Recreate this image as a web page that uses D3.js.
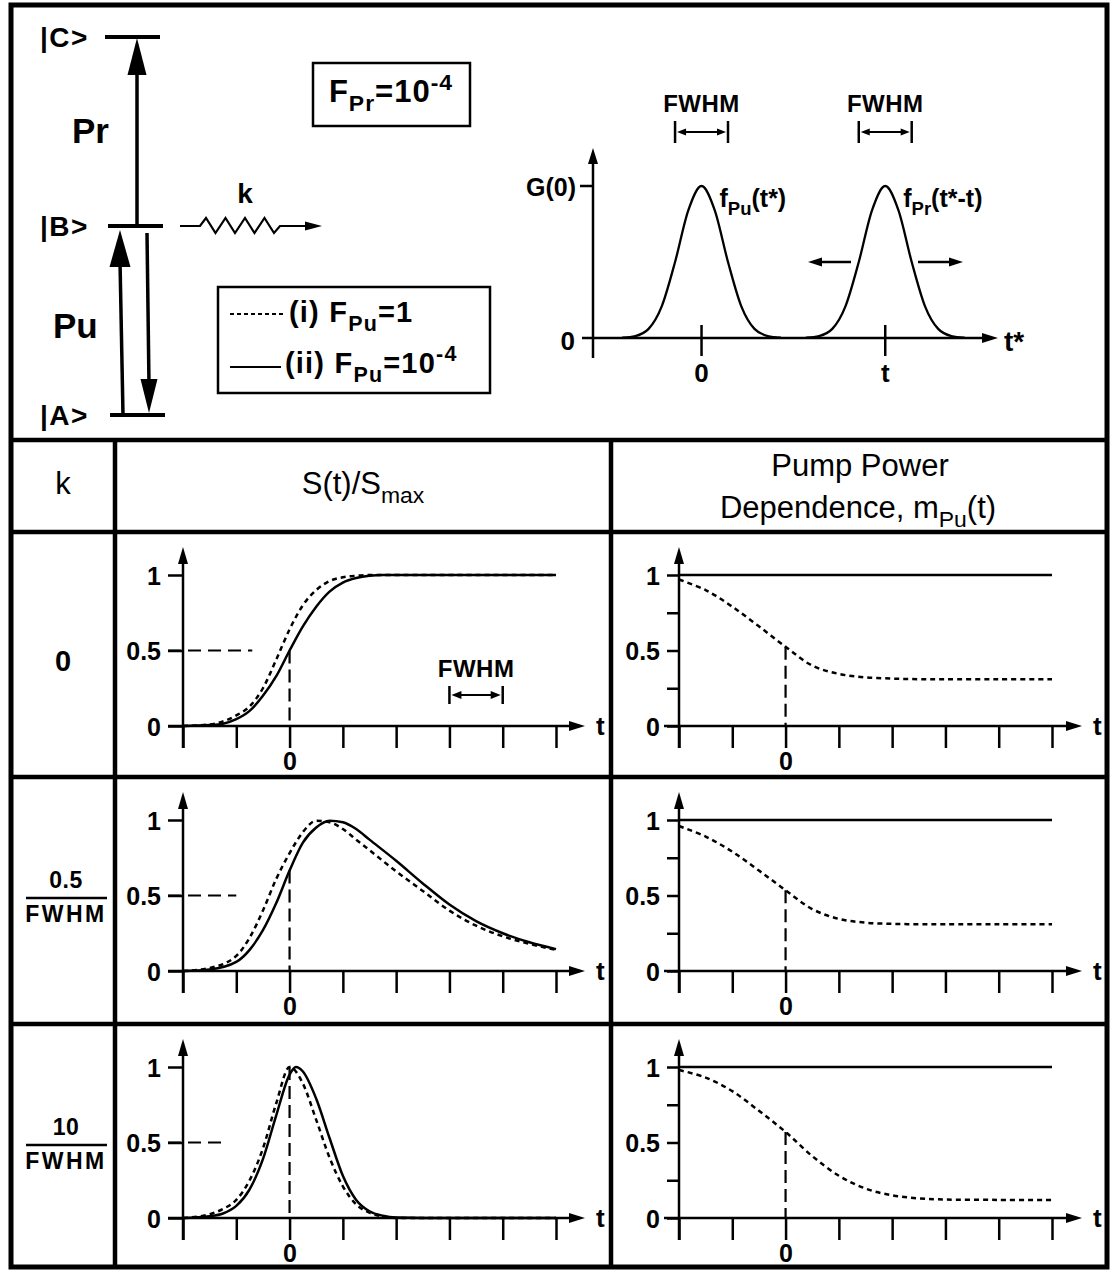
<!DOCTYPE html>
<html><head><meta charset="utf-8">
<script src="https://cdn.jsdelivr.net/npm/d3@7"></script>
<style>body{margin:0;background:#fff}svg{display:block}</style>
</head><body>
<svg id="c" width="1110" height="1270"></svg>
<script>
// ---------------- DATA ----------------
const stateNames = ["|A>", "|B>", "|C>"];
const stateEnergy = [0, 1, 2];
const pulseOffsets = [-1.5,-1.25,-1,-0.75,-0.5,-0.25,0,0.25,0.5,0.75,1,1.25,1.5];
const pulseValues  = [0.002,0.013,0.06,0.21,0.5,0.84,1,0.84,0.5,0.21,0.06,0.013,0.002];
const pulseCenters = [0, 3.47];
const pulseLabels = [["f","Pu","(t*)"], ["f","Pr","(t*-t)"]];
const tTicks = [-2,-1,0,1,2,3,4,5];
const leftYTicks = [0, 0.5, 1];
const rightYTicks = [0, 0.25, 0.5, 0.75, 1];
const kNumerators = ["0", "0.5", "10"];
const kDenominators = [null, "FWHM", "FWHM"];

// S(t)/Smax, row k=0
const sT1 = [-2,-1.5,-1.25,-1,-0.75,-0.5,-0.25,0,0.25,0.5,0.75,1,1.25,1.5,1.75,5];
const sSolid1 = [0,0.006,0.015,0.045,0.1,0.2,0.33,0.5,0.66,0.79,0.89,0.95,0.98,0.995,1,1];
const sDash1  = [0,0.01,0.03,0.07,0.13,0.25,0.44,0.64,0.8,0.9,0.96,0.985,0.995,1,1,1];
// row k=0.5/FWHM
const sT2 = [-2,-1.5,-1,-0.75,-0.5,-0.25,0,0.25,0.5,0.75,1,1.25,1.5,2,2.5,3,3.5,4,4.5,5];
const sSolid2 = [0,0.01,0.06,0.14,0.27,0.45,0.665,0.85,0.95,0.995,0.985,0.94,0.87,0.73,0.58,0.44,0.33,0.25,0.19,0.145];
const sDash2  = [0,0.02,0.1,0.22,0.4,0.61,0.78,0.92,0.995,0.985,0.94,0.87,0.8,0.66,0.53,0.4,0.3,0.23,0.18,0.14];
// row k=10/FWHM
const sT3s = [-2,-1.5,-1.25,-1,-0.75,-0.5,-0.25,0,0.12,0.25,0.5,0.75,1,1.25,1.5,1.75,2,2.5,5];
const sSolid3 = [0,0.012,0.03,0.08,0.19,0.39,0.68,0.95,1,0.97,0.79,0.53,0.28,0.12,0.045,0.015,0.003,0,0];
const sT3d = [-2,-1.5,-1.25,-1,-0.75,-0.5,-0.25,0,0.25,0.5,0.75,1,1.25,1.5,1.75,2,5];
const sDash3  = [0,0.025,0.06,0.12,0.25,0.46,0.76,1,0.89,0.65,0.4,0.21,0.09,0.035,0.01,0,0];

// pump power dependence m_Pu(t)
const mT = [-2,-1.5,-1,-0.5,0,0.5,1,1.5,2,2.5,3,4,5];
const mDash1 = [0.97,0.90,0.79,0.66,0.525,0.40,0.345,0.322,0.314,0.31,0.31,0.31,0.31];
const mDash2 = [0.96,0.89,0.79,0.665,0.535,0.41,0.345,0.32,0.312,0.31,0.31,0.31,0.31];
const mDash3 = [0.98,0.93,0.84,0.71,0.57,0.41,0.28,0.195,0.15,0.13,0.122,0.12,0.12];
const mSolidT = [-2, 5];
const mSolid = [1, 1];

const leftGuideTop = [0.5, 0.665, 1];
const leftGuideEnd = [-0.7, -1.0, -1.2];

// ---------------- DRAW ----------------
const svg = d3.select("#c");
const F = "'Liberation Sans', Arial, Helvetica, sans-serif";

function head(g, x, y, dir, len, w) {
  const d = {up:[0,-1],down:[0,1],left:[-1,0],right:[1,0]}[dir];
  const bx = x - d[0]*len, by = y - d[1]*len;
  const px = -d[1]*w/2, py = d[0]*w/2;
  g.append("path").attr("d", `M${x},${y}L${bx+px},${by+py}L${bx-px},${by-py}Z`).attr("fill","#000");
}
function line(g, x1, y1, x2, y2, w, dash) {
  const l = g.append("line").attr("x1",x1).attr("y1",y1).attr("x2",x2).attr("y2",y2)
    .attr("stroke","#000").attr("stroke-width",w||2.5);
  if (dash) l.attr("stroke-dasharray", dash);
  return l;
}
function rich(g, x, y, parts, size, anchor, weight, ls) {
  const t = g.append("text").attr("x",x).attr("y",y).attr("font-family",F)
    .attr("font-size",size).attr("font-weight",weight||"bold")
    .attr("text-anchor",anchor||"start").attr("letter-spacing",ls||0).attr("fill","#000");
  let cur = 0;
  parts.forEach(p => {
    const sz = (p.sub||p.sup) ? size*0.74 : size;
    const shift = p.sub ? size*0.3 : p.sup ? -size*0.4 : 0;
    t.append("tspan").attr("dy", shift - cur).attr("font-size", sz).text(p.t);
    cur = shift;
  });
  return t;
}
function label(g, x, y, txt, size, anchor, weight, ls) {
  return rich(g, x, y, [{t:txt}], size, anchor, weight, ls);
}

const g = svg.append("g");

// ---- Energy level diagram ----
const yE = d3.scaleLinear().domain([0, 2]).range([415, 37]);
const levelX = [[110,165],[108,163],[105,160]];
stateNames.forEach((n, i) => {
  const y = yE(stateEnergy[i]);
  line(g, levelX[i][0], y, levelX[i][1], y, 4);
  label(g, 40, y + 10, n, 28, "start", "bold", 1.5);
});
// Pr arrow (B -> C)
line(g, 137, yE(1), 137, yE(2) + 30, 3.5);
head(g, 137, yE(2) + 1, "up", 37, 19);
label(g, 72, 143, "Pr", 35);
// Pu up (A -> B)
line(g, 123, yE(0), 120, yE(1) + 35, 3.5);
head(g, 120, yE(1) + 4, "up", 37, 21);
// Pu down (B -> A)
line(g, 147, yE(1) + 7, 149, yE(0) - 30, 3.5);
head(g, 149, yE(0) - 2, "down", 34, 17);
label(g, 53, 338, "Pu", 35);
// k wavy arrow
{
  const y0 = yE(1);
  let pts = [[180,y0],[200,y0]];
  for (let i = 0; i < 4; i++) {
    const x = 200 + i*19.5;
    pts.push([x+6, y0-8]); pts.push([x+15.5, y0+7]);
  }
  pts.push([280, y0]); pts.push([308, y0]);
  g.append("path").attr("d", d3.line()(pts)).attr("fill","none").attr("stroke","#000").attr("stroke-width",2.2);
  head(g, 322, y0, "right", 17, 9);
  label(g, 245, 203, "k", 28, "middle");
}
// F_Pr box
g.append("rect").attr("x",313).attr("y",63).attr("width",157).attr("height",63)
  .attr("fill","none").attr("stroke","#000").attr("stroke-width",2.5);
rich(g, 391, 102, [{t:"F"},{t:"Pr",sub:true},{t:"=10"},{t:"-4",sup:true}], 31, "middle", "bold", 1);
// Legend box
g.append("rect").attr("x",218).attr("y",287).attr("width",272).attr("height",106)
  .attr("fill","none").attr("stroke","#000").attr("stroke-width",2.5);
line(g, 230, 314, 283, 314, 2, "4,3");
line(g, 230, 367, 281, 367, 2);
rich(g, 289, 322, [{t:"(i) F"},{t:"Pu",sub:true},{t:"=1"}], 29, "start", "bold", 1.2);
rich(g, 285, 373, [{t:"(ii) F"},{t:"Pu",sub:true},{t:"=10"},{t:"-4",sup:true}], 29, "start", "bold", 1.2);

// ---- Pulse diagram ----
{
  const x = d3.scaleLinear().domain([-2.05, 5.6]).range([593, 998]);
  const y = d3.scaleLinear().domain([0, 1]).range([338, 186]);
  line(g, 582, y(0), x(5.6) - 10, y(0), 2.5);
  head(g, x(5.6), y(0), "right", 16, 10);
  line(g, x(-2.05), 358, x(-2.05), 160, 2.5);
  head(g, x(-2.05), 148, "up", 16, 10);
  line(g, 580, y(1), x(-2.05), y(1), 2.5);
  rich(g, 1004, 351, [{t:"t*"}], 28, "start", "bold");
  label(g, 576, 196, "G(0)", 25, "end");
  label(g, 575, 350, "0", 26, "end");
  const pl = d3.line().x(d => x(d[0])).y(d => y(d[1])).curve(d3.curveMonotoneX);
  pulseCenters.forEach((c, i) => {
    const pts = pulseOffsets.map((o, j) => [c + o, pulseValues[j]]);
    g.append("path").attr("d", pl(pts)).attr("fill","none").attr("stroke","#000").attr("stroke-width",2.3);
    line(g, x(c), 325, x(c), 356, 2.5);
    label(g, x(c), 382, i === 0 ? "0" : "t", 26, "middle");
    label(g, x(c), 112, "FWHM", 24, "middle", "bold", 0.5);
    const xa = x(c - 0.5), xb = x(c + 0.5);
    line(g, xa, 121, xa, 143, 2.5); line(g, xb, 121, xb, 143, 2.5);
    line(g, xa + 6, 132, xb - 6, 132, 2);
    head(g, xa + 2, 132, "left", 9, 7); head(g, xb - 2, 132, "right", 9, 7);
    const lp = pulseLabels[i];
    rich(g, x(c) + 18, 207, [{t:lp[0]},{t:lp[1],sub:true},{t:lp[2]}], 25, "start", "bold");
  });
  line(g, 851, 262, 820, 262, 2.5); head(g, 808, 262, "left", 14, 9);
  line(g, 918, 262, 950, 262, 2.5); head(g, 963, 262, "right", 14, 9);
}

// ---- Table frame ----
g.append("rect").attr("x",11).attr("y",5).attr("width",1096).attr("height",1262)
  .attr("fill","none").attr("stroke","#000").attr("stroke-width",5);
[440, 532, 777, 1024].forEach(y => line(g, 11, y, 1107, y, 4.5));
[115, 611].forEach(x => line(g, x, 440, x, 1267, 4.5));

// header
label(g, 63, 494, "k", 31, "middle", "normal");
rich(g, 363, 494, [{t:"S(t)/S"},{t:"max",sub:true}], 31, "middle", "normal");
label(g, 860, 476, "Pump Power", 31, "middle", "normal");
rich(g, 858, 518, [{t:"Dependence, m"},{t:"Pu",sub:true},{t:"(t)"}], 31, "middle", "normal");

// ---- rows ----
const rowTops = [532, 777, 1024];
const sRows = [
  {ts: sT1, solid: sSolid1, td: sT1, dash: sDash1},
  {ts: sT2, solid: sSolid2, td: sT2, dash: sDash2},
  {ts: sT3s, solid: sSolid3, td: sT3d, dash: sDash3}
];
const mRows = [mDash1, mDash2, mDash3];

function styleAxis(a) {
  a.select(".domain").remove();
  a.selectAll(".tick line").attr("stroke","#000").attr("stroke-width",2.5);
  a.selectAll(".tick text").attr("font-family",F).attr("font-size",25).attr("font-weight","bold").attr("fill","#000");
}

function panel(top, xr, yTicks, labelTicks, tickLen, tEnd) {
  const x = d3.scaleLinear().domain([-2, 5]).range(xr);
  const y = d3.scaleLinear().domain([0, 1]).range([top + 194, top + 43]);
  const ax = g.append("g").attr("transform", `translate(0,${y(0)})`)
    .call(d3.axisBottom(x).tickValues(tTicks).tickSize(22).tickPadding(4).tickSizeOuter(0)
      .tickFormat(d => d === 0 ? "0" : ""));
  styleAxis(ax);
  const ay = g.append("g").attr("transform", `translate(${x(-2)},0)`)
    .call(d3.axisLeft(y).tickValues(yTicks).tickSize(tickLen).tickPadding(7).tickSizeOuter(0)
      .tickFormat(d => labelTicks.includes(d) ? d3.format("")(d) : ""));
  styleAxis(ay);
  ay.selectAll(".tick text").attr("dy", "0.36em");
  line(g, x(-2) - 15, y(0), tEnd - 12, y(0), 2.5);
  head(g, tEnd, y(0), "right", 16, 10);
  line(g, x(-2), y(0) + 22, x(-2), top + 30, 2.5);
  head(g, x(-2), top + 15, "up", 17, 10);
  label(g, tEnd + 11, y(0) + 9, "t", 26, "start");
  return {x, y};
}
const lineGen = (x, y, c) => d3.line().x(d => x(d[0])).y(d => y(d[1])).curve(c || d3.curveMonotoneX);

rowTops.forEach((top, r) => {
  if (kDenominators[r] === null) {
    label(g, 63, top + 139, kNumerators[r], 29, "middle");
  } else {
    label(g, 66, top + 111, kNumerators[r], 23, "middle", "bold", 0.5);
    line(g, 26, top + 121, 107, top + 121, 2.5);
    label(g, 66, top + 145, kDenominators[r], 23, "middle", "bold", 2.5);
  }
  // left panel
  const L = panel(top, [183, 556], leftYTicks, [0, 0.5, 1], 15, 585);
  const lg = lineGen(L.x, L.y);
  const d = sRows[r];
  g.append("path").attr("d", lg(d.td.map((t, i) => [t, d.dash[i]]))).attr("fill","none")
    .attr("stroke","#000").attr("stroke-width",2.5).attr("stroke-dasharray","5,4");
  g.append("path").attr("d", lg(d.ts.map((t, i) => [t, d.solid[i]]))).attr("fill","none")
    .attr("stroke","#000").attr("stroke-width",2.5);
  line(g, L.x(-2) - 15, L.y(0.5), L.x(leftGuideEnd[r]), L.y(0.5), 2.2, "13,7");
  line(g, L.x(0), L.y(leftGuideTop[r]), L.x(0), L.y(0), 2.2, "13,6");
  if (r === 0) {
    label(g, L.x(3.5), top + 145, "FWHM", 24, "middle", "bold", 0.5);
    const xa = L.x(3), xb = L.x(4), yb = top + 163;
    line(g, xa, yb - 9, xa, yb + 9, 2.5); line(g, xb, yb - 9, xb, yb + 9, 2.5);
    line(g, xa + 6, yb, xb - 6, yb, 2);
    head(g, xa + 2, yb, "left", 10, 8); head(g, xb - 2, yb, "right", 10, 8);
  }
  // right panel
  const R = panel(top, [679, 1052], rightYTicks, [0, 0.5, 1], 12, 1082);
  const rg = lineGen(R.x, R.y, d3.curveCatmullRom.alpha(0.5));
  g.append("path").attr("d", rg(mSolidT.map((t, i) => [t, mSolid[i]]))).attr("fill","none")
    .attr("stroke","#000").attr("stroke-width",2.5);
  g.append("path").attr("d", rg(mT.map((t, i) => [t, mRows[r][i]]))).attr("fill","none")
    .attr("stroke","#000").attr("stroke-width",2.5).attr("stroke-dasharray","5,4");
  const m0 = mRows[r][mT.indexOf(0)];
  line(g, R.x(0), R.y(m0), R.x(0), R.y(0), 2.2, "13,6");
});
</script>
</body></html>
